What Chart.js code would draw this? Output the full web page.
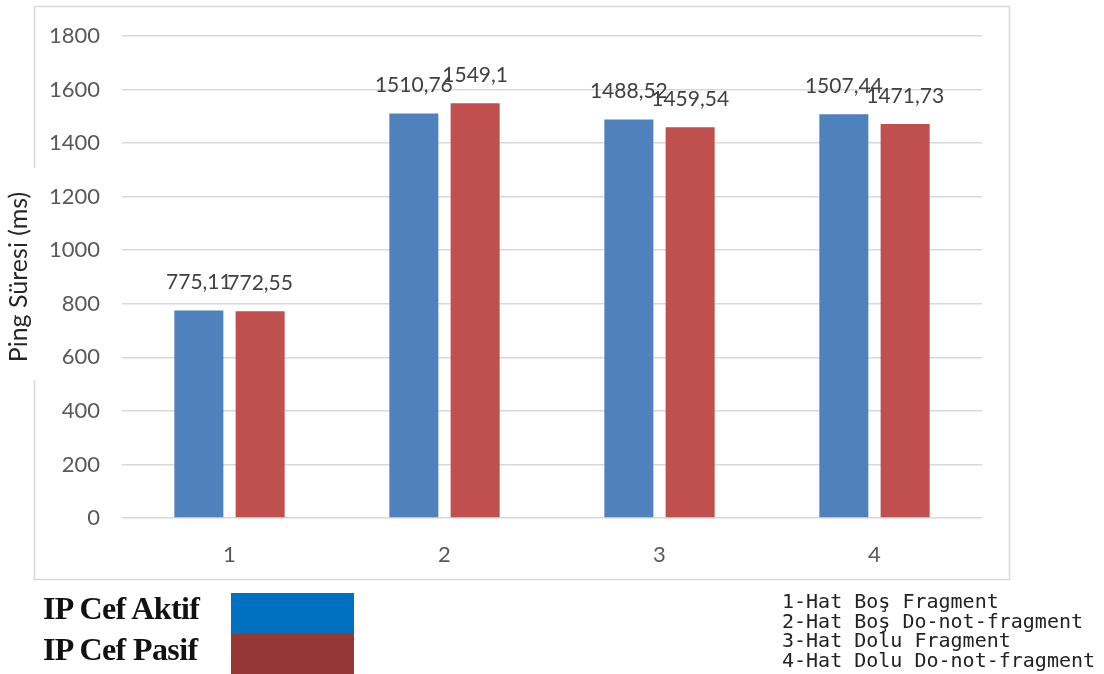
<!DOCTYPE html>
<html>
<head>
<meta charset="utf-8">
<script src="https://cdn.jsdelivr.net/npm/chart.js@4/dist/chart.umd.min.js"></script>
<style>
  html, body { margin: 0; padding: 0; background: #fff; }
  #wrap { position: relative; width: 1104px; height: 674px; overflow: hidden; }
  #chart { position: absolute; left: 0; top: 0; }
  .key { position: absolute; left: 43px; font: bold 32px "Liberation Serif", serif; color: #111; letter-spacing: -0.6px; }
  .swatch { position: absolute; left: 231px; width: 123px; }
  #notes { position: absolute; left: 782px; top: 592px; font: 20px "DejaVu Sans Mono", monospace; line-height: 19.6px; color: #222; white-space: pre; }
</style>
</head>
<body>
<div id="wrap">
  <canvas id="chart" width="1104" height="674"></canvas>
  <div id="notes"></div>
</div>
<script>
const categories = ["1", "2", "3", "4"];
const seriesNames = ["IP Cef Aktif", "IP Cef Pasif"];
const aktif = [775.11, 1510.76, 1488.52, 1507.44];
const pasif = [772.55, 1549.1, 1459.54, 1471.73];
const yTicks = [0, 200, 400, 600, 800, 1000, 1200, 1400, 1600, 1800];
const notes = [
  "1-Hat Boş Fragment",
  "2-Hat Boş Do-not-fragment",
  "3-Hat Dolu Fragment",
  "4-Hat Dolu Do-not-fragment",
];

const barColors = ["#4f81bd", "#c0504d"];
const keyColors = ["#0070c0", "#953735"];

// legend block under the chart frame
const wrap = document.getElementById("wrap");
seriesNames.forEach((name, i) => {
  const label = document.createElement("div");
  label.className = "key";
  label.textContent = name;
  label.style.top = (590 + i * 41) + "px";
  wrap.appendChild(label);
  const sw = document.createElement("div");
  sw.className = "swatch";
  sw.style.top = (593 + i * 41) + "px";
  sw.style.height = "41px";
  sw.style.background = keyColors[i];
  wrap.appendChild(sw);
});
document.getElementById("notes").textContent = notes.join("\n");

// light frame around the chart, broken where the axis title sits
const framePlugin = {
  id: "frame",
  beforeDraw(chart) {
    const c = chart.ctx;
    c.save();
    c.strokeStyle = "#d9d9d9";
    c.lineWidth = 1.5;
    c.strokeRect(34.5, 6.5, 975, 573);
    c.fillStyle = "#fff";
    c.fillRect(0, 168, 42, 212);
    c.restore();
  },
};

// value labels above each bar, decimal comma
const valuePlugin = {
  id: "values",
  afterDatasetsDraw(chart) {
    const c = chart.ctx;
    c.save();
    c.font = '21px "Lato", sans-serif';
    c.fillStyle = "#404040";
    c.textAlign = "center";
    c.textBaseline = "middle";
    chart.data.datasets.forEach((ds, di) => {
      chart.getDatasetMeta(di).data.forEach((bar, i) => {
        c.fillText(String(ds.data[i]).replace(".", ","), bar.x, bar.y - 28);
      });
    });
    c.restore();
  },
};

new Chart(document.getElementById("chart"), {
  type: "bar",
  data: {
    labels: categories,
    datasets: [
      { label: seriesNames[0], data: aktif, backgroundColor: barColors[0] },
      { label: seriesNames[1], data: pasif, backgroundColor: barColors[1] },
    ],
  },
  options: {
    responsive: false,
    animation: false,
    devicePixelRatio: 1,
    categoryPercentage: 0.57,
    barPercentage: 0.8,
    layout: { padding: { left: 0, top: 36, right: 122, bottom: 0 } },
    plugins: {
      legend: { display: false },
      tooltip: { enabled: false },
    },
    scales: {
      x: {
        grid: { display: false },
        border: { display: false },
        ticks: { color: "#595959", font: { family: "Lato", size: 22 }, padding: 16 },
        afterFit(scale) { scale.height = 156; },
      },
      y: {
        min: 0,
        max: yTicks[yTicks.length - 1],
        afterBuildTicks(scale) { scale.ticks = yTicks.map((v) => ({ value: v })); },
        grid: { color: "#d9d9d9", lineWidth: 1.5, drawTicks: false },
        border: { display: false },
        ticks: {
          color: "#595959",
          font: { family: "Lato", size: 22 },
          padding: 22,
          callback: (v) => String(v),
        },
        title: {
          display: true,
          text: "Ping Süresi (ms)",
          color: "#262626",
          font: { family: "Lato", size: 25 },
          padding: { top: 4, bottom: 0 },
        },
        afterFit(scale) { scale.width = 122; },
      },
    },
  },
  plugins: [framePlugin, valuePlugin],
});
</script>
</body>
</html>
